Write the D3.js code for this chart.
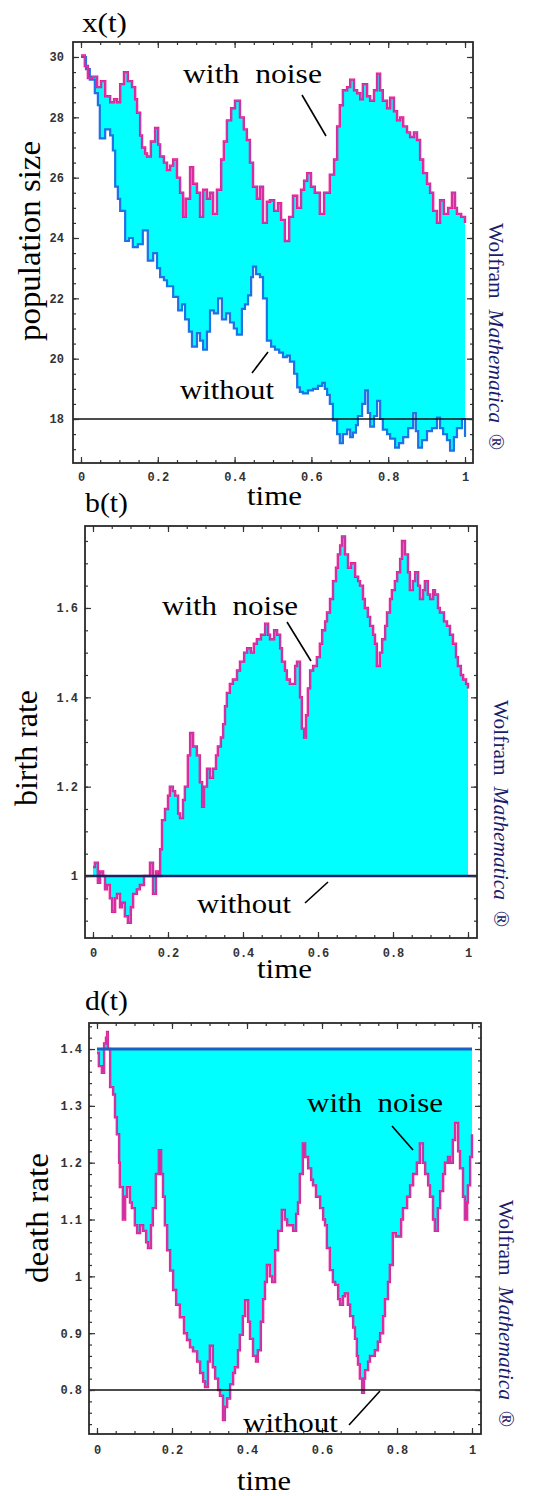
<!DOCTYPE html>
<html><head><meta charset="utf-8">
<script src="https://cdn.jsdelivr.net/npm/d3@7/dist/d3.min.js"></script>
<style>body{margin:0;background:#fff}svg{display:block}text{white-space:pre}</style>
</head><body>
<script>
// ---------------- DATA ----------------
const timeTicks = [0, 0.2, 0.4, 0.6, 0.8, 1];
const popTicks = [18, 20, 22, 24, 26, 28, 30];
const birthTicks = [1, 1.2, 1.4, 1.6];
const deathTicks = [0.8, 0.9, 1, 1.1, 1.2, 1.3, 1.4];
const popLevel = 18;
const birthPlain = 1;
const deathPlain = 1.4;
const deathLevel = 0.8;

// population with noise
const popNoiseT = [0,0.010,0.018,0.029,0.042,0.052,0.063,0.076,0.086,0.094,0.102,0.112,0.122,0.133,0.141,0.146,0.154,0.159,0.167,0.172,0.182,0.193,0.201,0.206,0.216,0.224,0.232,0.240,0.250,0.258,0.266,0.273,0.284,0.292,0.302,0.310,0.318,0.328,0.336,0.344,0.354,0.365,0.372,0.380,0.391,0.401,0.414,0.424,0.432,0.440,0.448,0.458,0.466,0.474,0.484,0.492,0.503,0.513,0.521,0.531,0.542,0.552,0.563,0.573,0.581,0.589,0.599,0.609,0.622,0.633,0.648,0.659,0.667,0.674,0.682,0.693,0.701,0.711,0.719,0.727,0.734,0.745,0.753,0.763,0.771,0.779,0.786,0.797,0.805,0.815,0.823,0.831,0.839,0.849,0.857,0.867,0.875,0.883,0.891,0.901,0.909,0.917,0.927,0.935,0.945,0.956,0.966,0.974,0.979,0.990,1.000];
const popNoise = [30.05,29.7,29.3,29.35,29.0,29.2,28.7,28.5,28.6,28.5,29.1,29.5,29.2,29.0,28.6,28.15,27.4,27.0,26.8,26.7,27.2,27.65,27.1,26.7,26.5,26.25,26.4,26.6,26.0,25.5,24.7,25.3,26.35,25.8,25.5,24.7,25.6,25.3,25.5,24.8,25.6,26.6,27.2,27.9,28.3,28.55,28.0,27.6,27.25,26.5,25.7,25.3,25.7,24.5,25.2,25.25,24.9,25.15,24.6,23.9,24.7,25.4,25.0,25.6,25.9,26.15,25.7,25.5,24.8,25.5,26.1,26.6,27.7,28.4,28.9,29.0,29.25,28.9,28.8,28.6,29.1,28.7,28.55,28.9,29.45,28.9,28.55,28.3,28.65,28.2,27.9,28.0,27.7,27.5,27.35,27.5,27.25,26.6,26.15,25.8,25.5,24.9,24.5,25.25,24.8,25.0,25.5,25.0,24.8,24.7,24.5];

// population without noise
const popPlainT = [0,0.013,0.023,0.036,0.044,0.049,0.063,0.076,0.083,0.089,0.096,0.102,0.115,0.125,0.135,0.148,0.161,0.174,0.188,0.198,0.206,0.216,0.224,0.240,0.253,0.263,0.271,0.281,0.289,0.302,0.310,0.318,0.328,0.336,0.346,0.357,0.367,0.378,0.388,0.398,0.406,0.419,0.427,0.435,0.443,0.448,0.456,0.466,0.474,0.484,0.495,0.505,0.516,0.526,0.536,0.544,0.555,0.563,0.570,0.578,0.591,0.604,0.617,0.628,0.635,0.641,0.648,0.656,0.667,0.674,0.682,0.693,0.701,0.708,0.716,0.721,0.732,0.740,0.747,0.753,0.763,0.771,0.779,0.786,0.797,0.805,0.818,0.828,0.839,0.852,0.865,0.872,0.878,0.888,0.901,0.914,0.927,0.935,0.943,0.953,0.961,0.971,0.979,0.992,1.000];
const popPlain = [30.0,29.6,29.25,28.8,28.4,27.3,27.6,27.4,26.9,25.7,25.3,24.9,23.9,24.0,23.7,23.8,24.25,23.25,23.5,23.0,22.7,22.6,22.4,22.05,21.6,21.8,21.3,20.9,20.4,20.85,20.6,20.3,20.9,21.6,21.5,22.0,21.3,21.5,21.2,21.0,20.8,21.65,21.8,22.1,22.7,23.05,22.8,22.7,22.0,20.6,20.4,20.3,20.2,20.05,20.1,19.9,19.5,19.05,18.9,18.85,18.95,19.0,19.1,19.2,19.0,18.8,18.5,17.95,17.5,17.2,17.5,17.65,17.4,17.55,17.8,18.1,18.5,18.95,18.2,17.75,18.1,18.6,18.0,17.65,17.5,17.35,17.05,17.2,17.4,17.7,18.2,17.6,17.05,17.3,17.6,17.7,18.05,17.7,17.5,17.3,16.95,17.4,17.7,18.0,17.4];

// birth rate with noise
const birthT = [0,0.005,0.013,0.019,0.027,0.032,0.037,0.045,0.051,0.059,0.064,0.072,0.077,0.085,0.093,0.101,0.107,0.117,0.125,0.136,0.144,0.152,0.160,0.168,0.173,0.179,0.184,0.192,0.200,0.205,0.213,0.219,0.227,0.232,0.240,0.245,0.253,0.259,0.267,0.277,0.285,0.291,0.296,0.304,0.312,0.320,0.328,0.333,0.341,0.347,0.352,0.357,0.365,0.373,0.384,0.392,0.403,0.411,0.421,0.429,0.437,0.448,0.459,0.467,0.472,0.483,0.491,0.499,0.504,0.512,0.517,0.525,0.531,0.539,0.544,0.552,0.557,0.563,0.568,0.573,0.579,0.587,0.597,0.605,0.611,0.619,0.624,0.632,0.640,0.648,0.653,0.659,0.664,0.672,0.680,0.688,0.699,0.707,0.712,0.720,0.725,0.733,0.739,0.747,0.752,0.757,0.765,0.771,0.779,0.784,0.792,0.797,0.805,0.811,0.819,0.824,0.832,0.840,0.845,0.853,0.859,0.867,0.872,0.880,0.885,0.893,0.899,0.907,0.912,0.920,0.925,0.936,0.944,0.952,0.960,0.968,0.973,0.981,0.987,0.995,1.000];
const birthNoise = [1.02,1.03,0.985,1.01,1.0,0.97,0.98,0.95,0.92,0.95,0.96,0.93,0.94,0.91,0.895,0.93,0.96,0.97,0.98,1.0,1.0,1.03,0.96,1.01,1.0,1.06,1.125,1.15,1.18,1.2,1.19,1.18,1.14,1.13,1.17,1.2,1.27,1.32,1.29,1.27,1.21,1.155,1.2,1.24,1.22,1.24,1.27,1.29,1.31,1.34,1.38,1.41,1.43,1.44,1.46,1.48,1.50,1.51,1.50,1.52,1.53,1.54,1.565,1.54,1.53,1.55,1.54,1.51,1.48,1.46,1.44,1.43,1.43,1.47,1.48,1.40,1.33,1.31,1.36,1.42,1.46,1.47,1.49,1.52,1.55,1.57,1.59,1.62,1.66,1.69,1.72,1.74,1.76,1.72,1.69,1.70,1.67,1.66,1.65,1.62,1.60,1.58,1.56,1.54,1.52,1.47,1.50,1.53,1.56,1.59,1.62,1.64,1.66,1.68,1.71,1.75,1.72,1.68,1.64,1.66,1.68,1.65,1.62,1.64,1.66,1.63,1.62,1.64,1.63,1.60,1.59,1.57,1.56,1.54,1.52,1.49,1.47,1.45,1.44,1.43,1.42];

// death rate with noise
const deathT = [0,0.005,0.013,0.019,0.024,0.027,0.029,0.035,0.043,0.048,0.053,0.059,0.061,0.069,0.075,0.080,0.088,0.093,0.101,0.107,0.115,0.123,0.131,0.136,0.144,0.149,0.157,0.165,0.171,0.176,0.181,0.187,0.195,0.203,0.211,0.221,0.232,0.240,0.248,0.256,0.267,0.275,0.283,0.288,0.296,0.301,0.309,0.315,0.323,0.328,0.336,0.341,0.347,0.355,0.363,0.368,0.376,0.381,0.389,0.395,0.403,0.408,0.416,0.424,0.429,0.437,0.443,0.448,0.453,0.461,0.467,0.475,0.483,0.493,0.501,0.507,0.515,0.523,0.531,0.536,0.541,0.549,0.555,0.563,0.571,0.576,0.584,0.595,0.603,0.608,0.613,0.621,0.629,0.635,0.643,0.648,0.656,0.661,0.669,0.675,0.683,0.688,0.693,0.696,0.701,0.707,0.712,0.715,0.723,0.728,0.736,0.741,0.749,0.755,0.763,0.768,0.776,0.781,0.789,0.797,0.803,0.811,0.816,0.827,0.835,0.843,0.853,0.861,0.869,0.875,0.883,0.888,0.896,0.901,0.909,0.915,0.923,0.928,0.936,0.941,0.949,0.955,0.963,0.968,0.976,0.981,0.987,0.989,0.995,1.000];
const deathNoise = [1.393,1.37,1.358,1.41,1.42,1.43,1.40,1.333,1.32,1.28,1.25,1.20,1.157,1.10,1.14,1.157,1.13,1.12,1.09,1.076,1.09,1.08,1.06,1.05,1.09,1.12,1.18,1.222,1.18,1.14,1.09,1.046,1.01,0.976,0.95,0.928,0.90,0.888,0.875,0.868,0.85,0.83,0.815,0.805,0.85,0.878,0.84,0.82,0.80,0.79,0.747,0.77,0.785,0.81,0.83,0.84,0.87,0.897,0.93,0.958,0.92,0.89,0.86,0.85,0.87,0.92,0.96,0.99,1.02,1.00,0.99,1.046,1.08,1.117,1.10,1.09,1.09,1.08,1.11,1.13,1.18,1.234,1.21,1.19,1.17,1.16,1.14,1.12,1.10,1.09,1.05,1.011,0.99,0.985,0.96,0.95,0.965,0.97,0.95,0.93,0.91,0.89,0.86,0.845,0.82,0.795,0.82,0.835,0.85,0.86,0.86,0.87,0.885,0.90,0.93,0.96,0.99,1.02,1.076,1.07,1.07,1.10,1.12,1.14,1.16,1.18,1.20,1.234,1.20,1.18,1.16,1.14,1.10,1.08,1.12,1.15,1.18,1.20,1.21,1.20,1.24,1.27,1.22,1.19,1.14,1.10,1.13,1.16,1.21,1.25];

// ---------------- DRAWING ----------------
const W = 549, H = 1496;
const svg = d3.select("body").append("svg").attr("width", W).attr("height", H);
svg.append("rect").attr("width", W).attr("height", H).attr("fill", "#fff");

const SERIF = "'Liberation Serif','Times New Roman',serif";
const MONO = "'Liberation Mono','Courier New',monospace";
const CYAN = "#00ffff", PINK = "#f0148a", PURP = "#8a78dc", BLUE = "#1f72e4";
const zip = (ts, vs) => ts.map((t, i) => [t, vs[i]]);
let clipId = 0;

function panel(p) {
  const g = svg.append("g");
  const x = d3.scaleLinear().domain(p.tDom).range([p.fx0, p.fx1]);
  const y = d3.scaleLinear().domain(p.vDom).range([p.fy1, p.fy0]);
  const id = "clip" + (clipId++);
  g.append("clipPath").attr("id", id).append("rect")
    .attr("x", p.fx0).attr("y", p.fy0).attr("width", p.fx1 - p.fx0).attr("height", p.fy1 - p.fy0);
  const plot = g.append("g").attr("clip-path", `url(#${id})`);
  p.draw(plot, x, y);

  // frame ticks (inward)
  const minorY = p.minorY.filter(v => v >= p.vDom[0] && v <= p.vDom[1]);
  const minorX = d3.range(0, 1.0001, 0.05).map(v => +v.toFixed(2));
  const addAxis = (axis, tx, ty) => {
    const a = g.append("g").attr("transform", `translate(${tx},${ty})`).call(axis);
    a.select(".domain").remove();
    a.selectAll("line").attr("stroke", "#333").attr("stroke-width", 1.2);
    a.selectAll("text").attr("font-family", MONO).attr("font-size", 12).attr("fill", "#333").attr("font-weight", "bold");
    return a;
  };
  addAxis(d3.axisLeft(y).tickValues(minorY).tickSizeInner(-3).tickSizeOuter(0).tickFormat(""), p.fx0, 0);
  addAxis(d3.axisRight(y).tickValues(minorY).tickSizeInner(-3).tickSizeOuter(0).tickFormat(""), p.fx1, 0);
  addAxis(d3.axisBottom(x).tickValues(minorX).tickSizeInner(-3).tickSizeOuter(0).tickFormat(""), 0, p.fy1);
  addAxis(d3.axisTop(x).tickValues(minorX).tickSizeInner(-3).tickSizeOuter(0).tickFormat(""), 0, p.fy0);
  addAxis(d3.axisLeft(y).tickValues(p.yTicks).tickSizeInner(-6).tickSizeOuter(0).tickPadding(p.yPad).tickFormat(v => String(+v.toFixed(1))), p.fx0, 0);
  addAxis(d3.axisRight(y).tickValues(p.yTicks).tickSizeInner(-6).tickSizeOuter(0).tickFormat(""), p.fx1, 0);
  addAxis(d3.axisBottom(x).tickValues(timeTicks).tickSizeInner(-6).tickSizeOuter(0).tickPadding(p.xPad).tickFormat(v => String(+v.toFixed(1))), 0, p.fy1);
  addAxis(d3.axisTop(x).tickValues(timeTicks).tickSizeInner(-6).tickSizeOuter(0).tickFormat(""), 0, p.fy0);

  g.append("rect").attr("x", p.fx0).attr("y", p.fy0).attr("width", p.fx1 - p.fx0).attr("height", p.fy1 - p.fy0)
    .attr("fill", "none").attr("stroke", "#2a2a2a").attr("stroke-width", 1.8);

  // texts
  const txt = (s, x0, yb, fs, len) => g.append("text").attr("x", x0).attr("y", yb).text(s)
    .attr("font-family", SERIF).attr("font-size", fs).attr("fill", "#000")
    .attr("textLength", len).attr("lengthAdjust", "spacingAndGlyphs");
  txt(p.title, p.titlePos[0], p.titlePos[1], 27, p.titlePos[2]);
  txt("time", p.timePos[0], p.timePos[1], 27, p.timePos[2]);
  txt("with  noise", p.noisePos[0], p.noisePos[1], 27, p.noisePos[2]);
  txt("without", p.withoutPos[0], p.withoutPos[1], 27, p.withoutPos[2]);
  g.append("text").attr("transform", `translate(${p.ylabPos[0]},${p.ylabPos[1]}) rotate(-90)`)
    .attr("text-anchor", "middle").text(p.ylab).attr("font-family", SERIF).attr("font-size", 32)
    .attr("textLength", p.ylabPos[2]).attr("lengthAdjust", "spacingAndGlyphs");
  [p.noiseLine, p.withoutLine].forEach(l => g.append("line")
    .attr("x1", l[0]).attr("y1", l[1]).attr("x2", l[2]).attr("y2", l[3])
    .attr("stroke", "#000").attr("stroke-width", 1.6));
  const wm = g.append("text").attr("transform", `translate(${p.wmPos[0]},${p.wmPos[1]}) rotate(90)`)
    .attr("font-family", SERIF).attr("font-size", 20).attr("fill", "#1c1c6b")
    .attr("textLength", 227).attr("lengthAdjust", "spacingAndGlyphs");
  wm.append("tspan").text("Wolfram  ");
  wm.append("tspan").attr("font-style", "italic").text("Mathematica");
  wm.append("tspan").text("  \u00AE");
}

function noiseLine(plot, pts, x, y) {
  const line = d3.line().curve(d3.curveStepAfter).x(d => x(d[0])).y(d => y(d[1]));
  plot.append("path").attr("d", line(pts)).attr("fill", "none").attr("stroke", PINK).attr("stroke-width", 2.4);
  plot.append("path").attr("d", line(pts)).attr("fill", "none").attr("stroke", PURP).attr("stroke-width", 0.6);
}

// Panel 1: population
panel({
  fx0: 73, fx1: 473, fy0: 42, fy1: 463,
  tDom: [-0.0208, 1.0208], vDom: [16.542, 30.497],
  yTicks: popTicks, minorY: d3.range(16.5, 30.51, 0.5), yPad: 9, xPad: 9.5,
  title: "x(t)", titlePos: [82, 32, 45],
  timePos: [247, 505, 55],
  noisePos: [183, 83, 139], withoutPos: [180, 399, 94],
  noiseLine: [302, 95, 326, 136], withoutLine: [252, 373, 268, 352],
  ylab: "population size", ylabPos: [40, 241, 200],
  wmPos: [489, 223],
  draw(plot, x, y) {
    const top = zip(popNoiseT, popNoise), bot = zip(popPlainT, popPlain);
    const lineA = d3.line().curve(d3.curveStepAfter).x(d => x(d[0])).y(d => y(d[1]));
    const lineB = d3.line().curve(d3.curveStepBefore).x(d => x(d[0])).y(d => y(d[1]));
    const poly = lineA(top) + "L" + lineB(bot.slice().reverse()).slice(1) + "Z";
    plot.append("path").attr("d", poly).attr("fill", CYAN);
    plot.append("path").attr("d", lineA(bot)).attr("fill", "none").attr("stroke", BLUE).attr("stroke-width", 2.2);
    noiseLine(plot, top, x, y);
    plot.append("line").attr("x1", x.range()[0]).attr("x2", x.range()[1])
      .attr("y1", y(popLevel)).attr("y2", y(popLevel)).attr("stroke", "#111").attr("stroke-width", 1.6);
  }
});

// Panel 2: birth rate
panel({
  fx0: 85, fx1: 477, fy0: 526, fy1: 938,
  tDom: [-0.0213, 1.024], vDom: [0.8612, 1.7835],
  yTicks: birthTicks, minorY: d3.range(0.9, 1.751, 0.05), yPad: 7, xPad: 10.5,
  title: "b(t)", titlePos: [85, 512, 43],
  timePos: [257, 978, 55],
  noisePos: [162, 615, 136], withoutPos: [197, 913, 94],
  noiseLine: [287, 622, 311, 661], withoutLine: [305, 903, 328, 882],
  ylab: "birth rate", ylabPos: [37, 748, 116],
  wmPos: [494, 700],
  draw(plot, x, y) {
    const pts = zip(birthT, birthNoise);
    const area = d3.area().curve(d3.curveStepAfter).x(d => x(d[0])).y0(y(birthPlain)).y1(d => y(d[1]));
    plot.append("path").attr("d", area(pts)).attr("fill", CYAN);
    noiseLine(plot, pts, x, y);
    plot.append("line").attr("x1", x.range()[0]).attr("x2", x.range()[1])
      .attr("y1", y(birthPlain)).attr("y2", y(birthPlain)).attr("stroke", "#1b2466").attr("stroke-width", 2.4);
  }
});

// Panel 3: death rate
panel({
  fx0: 89, fx1: 481, fy0: 1023, fy1: 1434,
  tDom: [-0.0213, 1.024], vDom: [0.7226, 1.4458],
  yTicks: deathTicks, minorY: d3.range(0.74, 1.441, 0.02), yPad: 7, xPad: 11.5,
  title: "d(t)", titlePos: [85, 1010, 43],
  timePos: [237, 1490, 54],
  noisePos: [307, 1112, 136], withoutPos: [243, 1432, 95],
  noiseLine: [392, 1126, 413, 1150], withoutLine: [349, 1425, 380, 1391],
  ylab: "death rate", ylabPos: [48, 1218, 130],
  wmPos: [499, 1200],
  draw(plot, x, y) {
    const pts = zip(deathT, deathNoise);
    const area = d3.area().curve(d3.curveStepAfter).x(d => x(d[0])).y0(y(deathPlain)).y1(d => y(d[1]));
    plot.append("path").attr("d", area(pts)).attr("fill", CYAN);
    noiseLine(plot, pts, x, y);
    plot.append("line").attr("x1", x(0)).attr("x2", x(1))
      .attr("y1", y(deathPlain)).attr("y2", y(deathPlain)).attr("stroke", "#1f5fc4").attr("stroke-width", 3);
    plot.append("line").attr("x1", x.range()[0]).attr("x2", x.range()[1])
      .attr("y1", y(deathLevel)).attr("y2", y(deathLevel)).attr("stroke", "#111").attr("stroke-width", 1.6);
  }
});
</script>
</body></html>
